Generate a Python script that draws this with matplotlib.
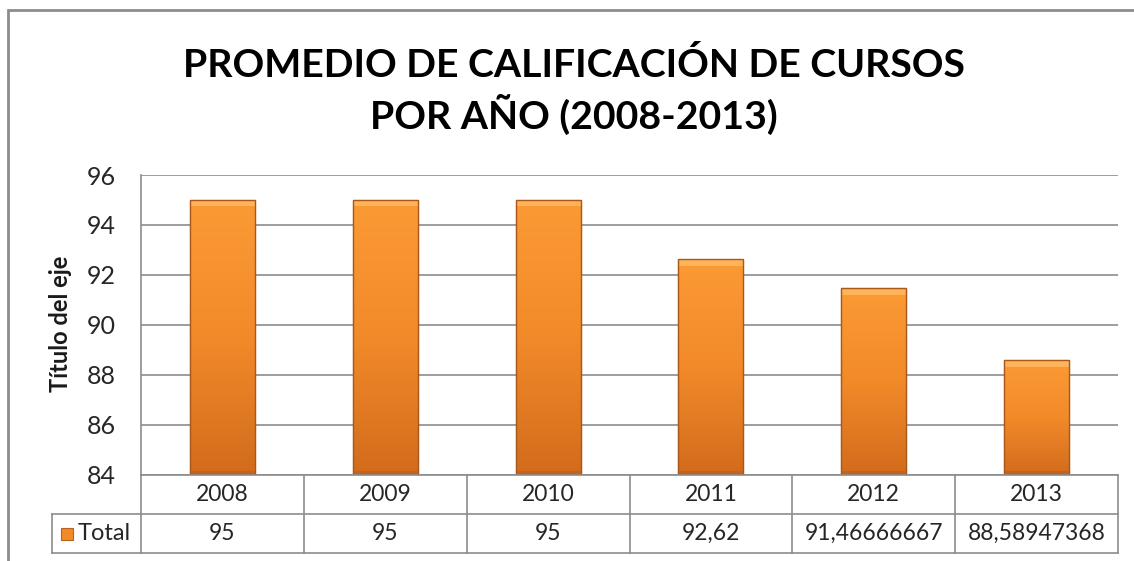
import matplotlib.pyplot as plt
import numpy as np
from matplotlib.patches import Rectangle
from matplotlib.colors import LinearSegmentedColormap

# DATA
years = ['2008', '2009', '2010', '2011', '2012', '2013']
promedio = [95, 95, 95, 92.62, 91.46666667, 88.58947368]
valor_txt = ['95', '95', '95', '92,62', '91,46666667', '88,58947368']
yticks = [84, 86, 88, 90, 92, 94, 96]

plt.rcParams['font.family'] = ['Lato', 'DejaVu Sans']

W, H = 1134, 561
fig = plt.figure(figsize=(W / 100, H / 100), dpi=100)

def fx(px):
    return px / W

def fy(py):
    return 1 - py / H

# outer chart frame (right and bottom edges fall outside the picture)
fig.patches.append(Rectangle((fx(8), fy(590)), fx(1170) - fx(8), fy(10) - fy(590),
                             transform=fig.transFigure, fill=False,
                             edgecolor='#8c8c8c', linewidth=2, zorder=0))

left, right, top, bottom = 141, 1118, 175, 475
ax = fig.add_axes([fx(left), fy(bottom), fx(right) - fx(left), fy(top) - fy(bottom)])

x = np.arange(len(years))
bars = ax.bar(x, promedio, width=0.4, bottom=0, color='#F7962F',
              edgecolor='#B8621C', linewidth=0.8, zorder=3)
ax.set_xlim(-0.5, len(years) - 0.5)
ax.set_ylim(84, 96)

# gradient and bevel for each bar
cmap = LinearSegmentedColormap.from_list('nar', ['#D26C1C', '#F28A2A', '#FB9A35'])
grad = np.linspace(0, 1, 100).reshape(-1, 1)
for b in bars:
    bx, bw = b.get_x(), b.get_width()
    y0, y1 = 84, b.get_height()
    ax.imshow(grad, cmap=cmap, aspect='auto', origin='lower',
              extent=[bx, bx + bw, y0, y1], zorder=3.5)
    ax.add_patch(Rectangle((bx, y1 - 0.25), bw, 0.25, facecolor='#FFB459',
                           edgecolor='none', zorder=3.6))
    ax.add_patch(Rectangle((bx, y0), bw, 0.15, facecolor='#C4641C',
                           edgecolor='none', zorder=3.6))
    ax.add_patch(Rectangle((bx, y0), bw, y1 - y0, fill=False,
                           edgecolor='#A9581A', linewidth=1.0, zorder=3.7))

ax.set_yticks(yticks)
ax.set_yticklabels([str(t) for t in yticks], fontsize=18, color='#262626')
ax.tick_params(axis='y', length=0, pad=18)
ax.set_xticks([])
ax.yaxis.grid(True, color='#8c8c8c', linewidth=1.2, zorder=0)
for s in ['top', 'right', 'bottom']:
    ax.spines[s].set_visible(False)
ax.spines['left'].set_color('#8c8c8c')
ax.spines['left'].set_linewidth(1.2)

fig.text(fx(60), fy(324), 'Título del eje', rotation=90, ha='center', va='center',
         fontsize=17, fontweight='bold', color='#1a1a1a')

# data table below the plot
lc = '#8c8c8c'
tab_left, row1, row2 = 52, 514, 553
col_w = (right - left) / len(years)
fig.add_artist(plt.Line2D([fx(left), fx(right)], [fy(bottom), fy(bottom)], color=lc, lw=1.2))
fig.add_artist(plt.Line2D([fx(tab_left), fx(right)], [fy(row1), fy(row1)], color=lc, lw=1.2))
fig.add_artist(plt.Line2D([fx(tab_left), fx(right)], [fy(row2), fy(row2)], color=lc, lw=1.2))
fig.add_artist(plt.Line2D([fx(tab_left), fx(tab_left)], [fy(row1), fy(row2)], color=lc, lw=1.2))
for i in range(len(years) + 1):
    xc = left + i * col_w
    fig.add_artist(plt.Line2D([fx(xc), fx(xc)], [fy(bottom), fy(row2)], color=lc, lw=1.2))
for i, (yr, v) in enumerate(zip(years, valor_txt)):
    xc = left + (i + 0.5) * col_w
    fig.text(fx(xc), fy((bottom + row1) / 2), yr, ha='center', va='center',
             fontsize=16.5, color='#262626')
    fig.text(fx(xc), fy((row1 + row2) / 2), v, ha='center', va='center',
             fontsize=16.5, color='#262626')

# legend key
fig.patches.append(Rectangle((fx(61), fy(540)), fx(12), fy(0) - fy(12),
                             transform=fig.transFigure, facecolor='#F28A2A',
                             edgecolor='#B8621C', linewidth=0.8))
fig.text(fx(78), fy((row1 + row2) / 2), 'Total', ha='left', va='center',
         fontsize=17, color='#262626')

fig.text(fx(574), fy(91), 'PROMEDIO DE CALIFICACIÓN DE CURSOS\nPOR AÑO (2008-2013)',
         ha='center', va='center', fontsize=28.3, fontweight='bold',
         color='#000000', linespacing=1.3)

fig.savefig('out.png', dpi=100, facecolor='white')
